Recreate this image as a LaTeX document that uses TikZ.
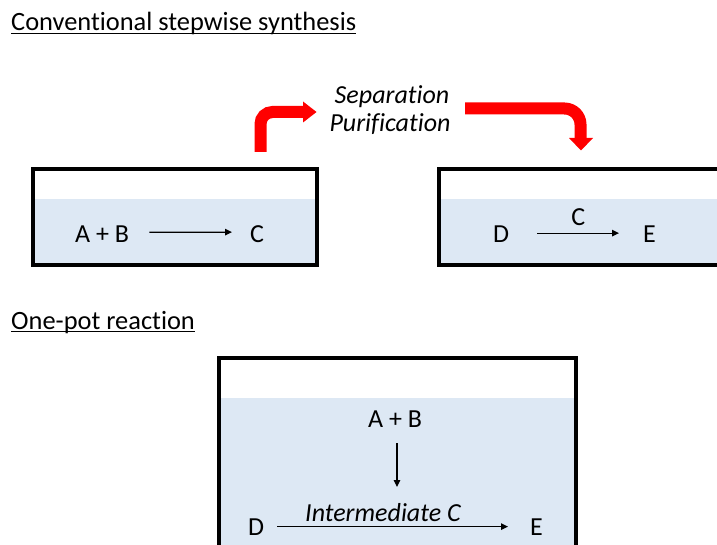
\documentclass[tikz,border=0pt]{standalone}
\usepackage{fontspec}
\setmainfont[RawFeature={-liga;-clig;-calt;-dlig}]{Carlito}
\usetikzlibrary{arrows.meta}
\definecolor{liquid}{HTML}{DDE8F4}
\definecolor{flowred}{HTML}{FF0000}
\begin{document}
\begin{tikzpicture}[x=1pt,y=-1pt,
  txt/.style={font=\fontsize{26}{31}\selectfont, inner sep=0pt, anchor=base west},
  ttl/.style={txt, font=\fontsize{26.4}{31}\selectfont},
  itxt/.style={txt, font=\fontsize{26}{31}\selectfont\itshape},
  rxn/.style={line width=1.2pt, -{Triangle[length=7pt,width=6.5pt]}},
  vessel/.style={line width=4pt, draw=black},
  redflow/.style={draw=flowred, line width=12pt},
  ul/.style={line width=1.3pt}]
\useasboundingbox (0,0) rectangle (717,545);
\clip (0,0) rectangle (717,545);

% titles
\node[ttl] (t1) at (11,31) {Conventional stepwise synthesis};
\draw[ul] ([yshift=-2.5pt]t1.base west) -- ([yshift=-2.5pt]t1.base east);
\node[ttl] (t2) at (11,329) {One-pot reaction};
\draw[ul] ([yshift=-2.5pt]t2.base west) -- ([yshift=-2.5pt]t2.base east);

% vessel 1
\fill[liquid] (33,199) rectangle (317,265);
\draw[vessel] (33,169) rectangle (317,265);
\node[txt] (ab1) at (75,243) {A + B};
\node[txt] (c1) at (250,243) {C};
\draw[rxn] ([xshift=20pt,yshift=2.5pt]ab1.east) -- ([xshift=-18pt,yshift=2.5pt]c1.west);

% vessel 2
\fill[liquid] (439,199) rectangle (740,265);
\draw[vessel] (439,169) rectangle (740,265);
\node[txt] (d2) at (493,243) {D};
\node[txt] (e2) at (643,243) {E};
\draw[rxn] ([xshift=28pt,yshift=1.5pt]d2.east) -- ([xshift=-24pt,yshift=1.5pt]e2.west)
  node[pos=0.5, anchor=base, inner sep=0pt, font=\fontsize{26}{31}\selectfont, yshift=8pt] (c2) {C};

% separation / purification
\node[itxt, anchor=base] (sep) at (392,104) {Separation};
\node[itxt, anchor=base] (pur) at (390,132) {Purification};

% red arrows
\coordinate (r1s) at (260.5,152);
\coordinate (r1c) at (260.5,112);
\coordinate (r1e) at (304,112);
\draw[redflow, rounded corners=12pt] (r1s) -- (r1c) -- (r1e);
\fill[flowred] (303,101.5) -- (316.5,112) -- (303,122.5) -- cycle;
\coordinate (r2s) at (465,108.5);
\coordinate (r2c) at (580.5,108.5);
\coordinate (r2e) at (580.5,139);
\draw[redflow, rounded corners=16pt] (r2s) -- (r2c) -- (r2e);
\fill[flowred] (569,138) -- (593,138) -- (581,150.5) -- cycle;

% vessel 3
\fill[liquid] (219,398) rectangle (576,570);
\draw[vessel] (219,358) rectangle (576,570);
\node[txt] (ab3) at (368,427) {A + B};
\coordinate (down) at (397,487);
\draw[rxn] ([yshift=-16pt]ab3.south -| down) -- (down);
\node[itxt] (ic) at (305,521) {Intermediate C};
\node[txt] (d3) at (248,535) {D};
\node[txt] (e3) at (530,535) {E};
\draw[rxn] ([xshift=13pt]d3.east) -- ([xshift=-22pt]e3.west);
\end{tikzpicture}
\end{document}
